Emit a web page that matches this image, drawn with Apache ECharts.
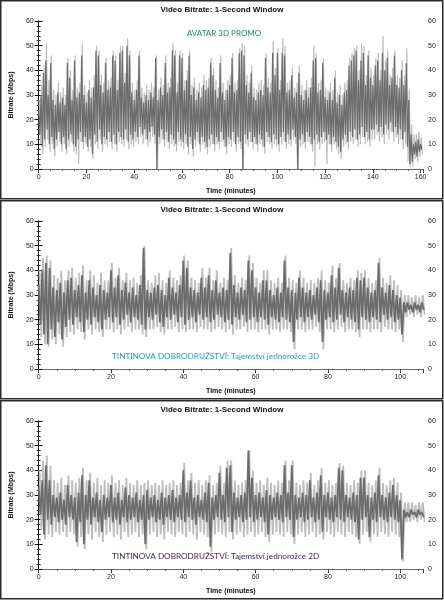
<!DOCTYPE html>
<html><head><meta charset="utf-8">
<script src="https://cdn.jsdelivr.net/npm/echarts@6/dist/echarts.min.js"></script>
<style>html,body{margin:0;padding:0;background:#fff}#c{width:444px;height:600px}</style>
</head><body><div id="c"></div>
<script>
const titleText = 'Video Bitrate: 1-Second Window';
const xName = 'Time (minutes)';
const yName = 'Bitrate (Mbps)';
const movieLabels = ['AVATAR 3D PROMO', 'TINTINOVA DOBRODRUŽSTVÍ: Tajemství jednorožce 3D', 'TINTINOVA DOBRODRUŽSTVÍ: Tajemství jednorožce 2D'];
const labelColors = ['#1f8f5f', '#1ea0cc', '#3c1f5c'];
const xMax = [161, 106.3, 106.3];

// Panel 1: AVATAR 3D PROMO, one peak and one trough per minute
const avatarDarkHi = [24,30,39,44,30,43,28,26,31,27,
 29,26,43,37,28,44,29,31,46,30,
 27,32,29,33,48,46,34,31,43,32,
 33,46,44,32,47,48,35,50,46,31,
 28,32,46,29,27,30,28,31,29,45,
 28,33,30,43,31,33,48,46,31,46,
 45,32,36,46,30,33,28,31,29,34,
 32,33,43,38,32,29,43,31,28,32,
 34,45,31,32,47,48,46,34,31,39,
 29,28,31,32,30,45,33,31,47,38,
 47,32,47,46,31,32,38,29,31,39,
 30,28,32,29,33,44,45,31,32,43,
 29,28,31,28,37,27,30,26,31,32,
 42,44,46,48,36,44,47,34,46,37,
 34,42,44,36,47,40,45,34,37,46,
 34,33,40,34,43,28,14,10,11,12,
 10];
const avatarDarkLo = [14,9,12,16,10,13,8,12,15,10,
 13,8,12,14,10,9,12,15,11,13,
 9,12,6,14,11,16,10,13,12,15,
 11,14,10,15,13,12,16,11,14,12,
 15,13,17,14,16,12,15,17,14,0,
 13,16,12,15,11,14,12,10,15,12,
 11,14,9,13,8,12,15,10,13,11,
 9,12,14,10,13,11,15,12,9,13,
 12,15,10,13,11,0,14,12,15,11,
 13,10,14,12,9,15,13,11,14,12,
 10,13,15,11,14,12,16,13,0,12,
 14,11,15,13,10,12,14,11,13,15,
 12,14,10,13,11,9,7,12,14,11,
 15,13,16,12,14,17,13,15,12,16,
 16,18,15,17,14,18,16,19,15,17,
 14,16,12,15,9,2,3,6,5,7,
 8];
const avatarLightHi = [28,34,42,51,36,46,32,30,35,31,
 33,30,45,40,32,46,33,35,51,34,
 31,36,33,38,50,48,38,35,45,36,
 37,48,46,36,50,50,39,53,48,35,
 32,36,48,33,31,34,32,35,33,46,
 32,37,34,46,35,37,51,48,35,48,
 47,36,40,48,34,37,32,35,33,38,
 36,37,45,41,36,33,46,35,32,36,
 38,47,35,36,49,51,50,38,35,42,
 33,32,35,36,34,47,37,35,52,41,
 49,36,53,50,35,36,41,33,35,42,
 34,32,36,33,37,50,47,35,36,45,
 33,32,35,32,40,31,34,30,35,36,
 45,47,49,50,40,51,50,38,48,41,
 38,45,47,40,54,44,48,38,41,48,
 38,37,44,38,49,32,18,14,14,15,
 13];
const avatarLightLo = [10,6,9,12,7,10,5,9,11,7,
 10,6,9,11,7,6,2,11,8,10,
 7,9,4,10,8,12,7,10,9,11,
 8,10,7,11,10,9,12,8,10,9,
 11,10,13,10,12,9,11,13,10,0,
 10,12,9,11,8,10,9,7,11,9,
 8,10,6,10,5,9,11,7,10,8,
 6,9,10,7,10,8,11,9,6,10,
 9,11,7,10,8,0,10,9,11,8,
 10,7,10,9,6,11,10,8,10,9,
 7,10,11,8,10,9,12,10,0,9,
 10,8,11,10,7,1,10,8,10,11,
 2,10,7,10,8,6,4,9,10,8,
 11,10,12,9,10,13,10,11,9,12,
 12,14,11,13,10,14,12,15,11,13,
 10,12,8,10,3,1,1,4,3,5,
 6];

// Panel 2: Tintin 3D
const tintin3DDarkHi = [34,40,43,41,33,32,35,31,36,37,
 32,34,38,31,36,33,30,34,32,31,
 40,33,38,32,35,31,33,30,34,49,
 32,31,33,34,32,30,37,33,31,34,
 44,41,33,32,31,37,33,38,32,36,
 31,33,32,47,34,31,33,32,44,40,
 33,31,36,36,32,30,33,31,44,33,
 32,31,37,33,31,32,30,33,36,32,
 31,38,33,41,32,31,33,32,37,36,
 37,33,31,32,43,33,31,34,32,30,
 29,27,27,26,27,26,27];
const tintin3DDarkLo = [18,14,10,16,13,19,12,17,20,18,
 21,19,15,20,18,21,19,16,20,21,
 19,21,18,20,22,19,21,20,18,16,
 21,20,22,19,17,21,20,22,19,21,
 18,20,21,19,22,20,21,19,20,22,
 21,19,20,18,21,20,22,19,20,21,
 19,21,20,18,21,20,19,21,20,19,
 11,20,21,19,21,20,22,19,11,20,
 21,19,20,22,19,21,20,19,16,21,
 20,19,21,20,19,22,20,21,19,20,
 14,23,24,23,24,23,24];
const tintin3DLightHi = [40,45,46,44,38,37,40,36,40,41,
 37,39,42,36,40,38,35,39,36,36,
 43,37,41,36,39,36,37,35,38,50,
 36,35,38,39,36,35,40,37,36,38,
 46,44,37,36,35,41,37,41,36,40,
 35,37,36,49,38,35,37,36,46,43,
 37,35,40,40,36,35,37,35,46,37,
 36,35,40,37,35,36,35,37,40,36,
 35,42,37,43,36,35,37,36,40,39,
 40,37,35,36,45,37,35,38,36,34,
 32,30,30,29,30,29,30];
const tintin3DLightLo = [13,10,9,12,10,14,9,13,15,14,
 16,15,12,16,14,16,15,13,16,16,
 15,16,14,16,17,15,16,16,14,13,
 16,16,17,15,14,16,16,17,15,16,
 15,16,16,15,17,16,16,15,16,17,
 16,15,16,14,16,16,17,15,16,16,
 15,16,16,14,16,16,15,16,16,15,
 8,16,16,15,16,16,17,15,8,16,
 16,15,16,17,15,16,16,15,13,16,
 16,15,16,16,15,17,16,16,15,16,
 11,21,22,21,22,21,22];

// Panel 3: Tintin 2D
const tintin2DDarkHi = [33,36,42,36,30,29,31,28,34,30,
 29,31,38,30,36,29,31,28,30,29,
 34,29,31,28,33,30,29,31,28,30,
 32,29,30,28,31,29,30,32,29,30,
 40,31,36,29,30,28,31,35,29,30,
 39,30,41,42,31,29,30,31,48,37,
 30,31,29,32,30,29,31,30,42,31,
 42,30,29,31,30,36,29,31,38,30,
 31,29,30,41,40,30,29,31,30,37,
 37,30,29,31,38,30,29,31,34,30,
 28,24,23,24,23,24,23];
const tintin2DDarkLo = [22,14,20,18,21,19,20,18,21,20,
 11,19,10,20,18,21,19,15,20,21,
 19,20,18,21,19,20,21,19,20,10,
 20,21,19,20,18,21,20,19,21,20,
 19,21,20,18,21,20,19,9,20,21,
 20,19,21,15,20,21,19,20,21,19,
 20,21,19,14,20,21,20,19,21,20,
 13,20,21,19,20,21,19,20,15,21,
 20,19,21,20,19,21,20,19,12,20,
 21,13,20,19,21,20,19,21,20,19,
 4,21,21,22,21,22,21];
const tintin2DLightHi = [40,44,46,42,36,35,37,34,38,36,
 35,37,41,36,39,35,37,34,36,35,
 38,35,36,34,37,35,34,36,34,35,
 36,34,35,34,36,34,35,36,34,35,
 43,36,39,35,36,34,36,38,34,35,
 42,35,44,44,36,34,35,36,48,40,
 35,36,34,37,35,34,36,35,44,36,
 44,35,34,36,35,39,34,36,41,35,
 36,34,35,43,42,35,34,36,35,40,
 40,35,34,36,41,35,34,36,37,35,
 31,27,27,27,26,27,27];
const tintin2DLightLo = [16,12,14,13,15,14,15,13,15,14,
 9,13,8,14,12,15,13,11,14,15,
 13,14,12,15,13,14,15,13,14,8,
 14,15,13,14,12,15,14,13,15,14,
 13,15,14,12,15,14,13,7,14,15,
 14,13,15,12,14,15,13,14,15,13,
 14,15,13,11,14,15,14,13,15,14,
 10,14,15,13,14,15,13,14,12,15,
 14,13,15,14,13,15,14,13,10,14,
 15,11,14,13,15,14,13,15,14,13,
 3,19,19,20,19,20,19];

const panels = [
  {darkHi: avatarDarkHi, darkLo: avatarDarkLo, lightHi: avatarLightHi, lightLo: avatarLightLo, lw: 1.2},
  {darkHi: tintin3DDarkHi, darkLo: tintin3DDarkLo, lightHi: tintin3DLightHi, lightLo: tintin3DLightLo, lw: 1.8},
  {darkHi: tintin2DDarkHi, darkLo: tintin2DDarkLo, lightHi: tintin2DLightHi, lightLo: tintin2DLightLo, lw: 1.8}
];

function zig(hi, lo, shift) {
  const out = [];
  for (let i = 0; i < hi.length; i++) {
    out.push([i + shift, hi[i]]);
    out.push([i + shift + 0.5, lo[i]]);
  }
  return out;
}

const FONT = 'Liberation Sans, Arial, sans-serif';
const grids = [], xAxes = [], yAxes = [], series = [], graphics = [];

panels.forEach((p, k) => {
  const off = k * 200;
  grids.push({left: 33, right: 21, top: 21 + off, height: 148, containLabel: false});
  const axisCommon = {
    type: 'value', gridIndex: k, min: 0, max: xMax[k], interval: 20,
    splitLine: {show: false}
  };
  xAxes.push(Object.assign({}, axisCommon, {
    position: 'bottom',
    axisLine: {show: true, lineStyle: {color: '#111', width: 1}},
    axisTick: {show: true, length: 4, lineStyle: {color: '#111'}},
    minorTick: {show: true, splitNumber: 4, length: 2, lineStyle: {color: '#333'}},
    axisLabel: {fontSize: 7, color: '#222', margin: 5, fontFamily: FONT, showMaxLabel: false},
    name: xName, nameLocation: 'middle', nameGap: 19,
    nameTextStyle: {fontSize: 7, fontWeight: 'bold', color: '#111', fontFamily: FONT}
  }));
  xAxes.push(Object.assign({}, axisCommon, {
    position: 'top',
    axisLine: {show: true, lineStyle: {color: '#777', width: 1, type: 'dotted'}},
    axisTick: {show: true, inside: true, length: 3, lineStyle: {color: '#444'}},
    minorTick: {show: true, splitNumber: 4, length: 2, lineStyle: {color: '#666'}},
    axisLabel: {show: false}
  }));
  const yCommon = {
    type: 'value', gridIndex: k, min: 0, max: 60, interval: 10,
    splitLine: {show: false},
    axisLine: {show: true, lineStyle: {color: '#111', width: 1}},
    axisTick: {show: true, length: 4, lineStyle: {color: '#111'}},
    minorTick: {show: true, splitNumber: 5, length: 2, lineStyle: {color: '#333'}},
    axisLabel: {fontSize: 7, color: '#222', margin: 5, fontFamily: FONT}
  };
  yAxes.push(Object.assign({}, yCommon, {
    position: 'left', name: yName, nameLocation: 'middle', nameGap: 22,
    nameTextStyle: {fontSize: 7, fontWeight: 'bold', color: '#111', fontFamily: FONT}
  }));
  yAxes.push(Object.assign({}, yCommon, {position: 'right'}));

  series.push({
    type: 'line', xAxisIndex: 2 * k, yAxisIndex: 2 * k, data: zig(p.lightHi, p.lightLo, 0.25),
    symbol: 'none', silent: true, lineStyle: {width: p.lw, color: '#bdbdbd'}, z: 2
  });
  series.push({
    type: 'line', xAxisIndex: 2 * k, yAxisIndex: 2 * k, data: zig(p.darkHi, p.darkLo, 0),
    symbol: 'none', silent: true, lineStyle: {width: p.lw, color: '#6c6c6c'}, z: 3
  });

  graphics.push({
    type: 'rect', silent: true, z: 100,
    shape: {x: 0.75, y: off + 0.75, width: 442, height: 198},
    style: {fill: 'none', stroke: '#2b2b2b', lineWidth: 1.5}
  });
  graphics.push({
    type: 'text', silent: true, z: 100, x: 222, y: off + 10,
    style: {text: titleText, fill: '#111', font: 'bold 8px ' + FONT, align: 'center', verticalAlign: 'middle'}
  });
  if (k === 0) {
    graphics.push({
      type: 'text', silent: true, z: 100, x: 224, y: 33,
      style: {text: movieLabels[k], fill: labelColors[k], font: '8px Lato, sans-serif', align: 'center', verticalAlign: 'middle'}
    });
  } else {
    graphics.push({
      type: 'text', silent: true, z: 100, x: 112, y: off + 156,
      style: {text: movieLabels[k], fill: labelColors[k], font: '8.2px Lato, sans-serif', align: 'left', verticalAlign: 'middle'}
    });
  }
});

const chart = echarts.init(document.getElementById('c'), null, {renderer: 'canvas'});
chart.setOption({
  animation: false,
  backgroundColor: '#fff',
  grid: grids, xAxis: xAxes, yAxis: yAxes, series: series, graphic: graphics
});
</script></body></html>
